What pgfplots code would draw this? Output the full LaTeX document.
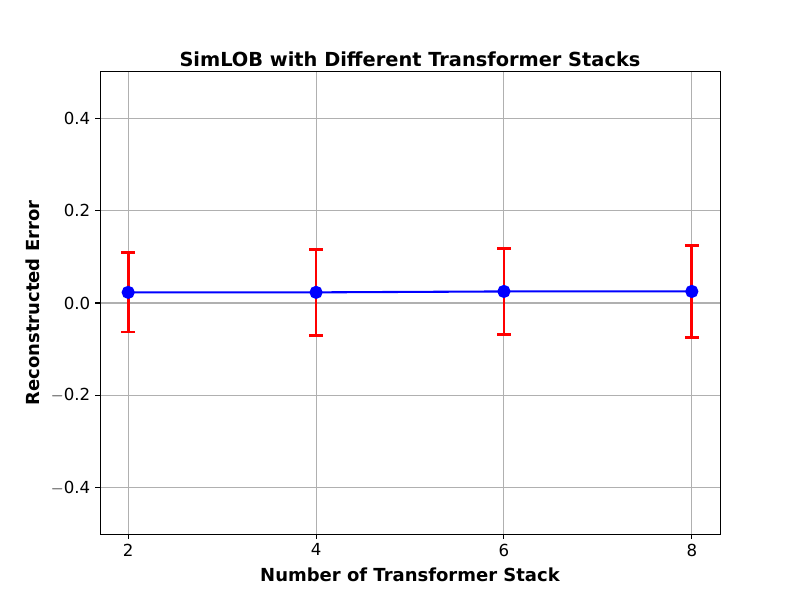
\documentclass[border=0pt]{standalone}
\usepackage{fontspec}
\setmainfont{DejaVu Sans}
\usepackage{pgfplots}
\pgfplotsset{compat=1.18}
\begin{document}
\begin{tikzpicture}
\useasboundingbox (0pt,0pt) rectangle (578.16pt,433.62pt);
\begin{axis}[
  at={(72.27pt,47.70pt)}, anchor=south west,
  scale only axis, width=448.07pt, height=333.89pt,
  xmin=1.7, xmax=8.3, ymin=-0.5, ymax=0.5,
  xtick={2,4,6,8},
  ytick={-0.4,-0.2,0,0.2,0.4},
  yticklabels={$-$0.4,$-$0.2,0.0,0.2,0.4},
  /pgf/number format/assume math mode=true,
  /pgf/number format/fixed, /pgf/number format/precision=1,
  tick label style={font=\fontsize{12}{14}\selectfont},
  tick align=outside, major tick length=3.5pt,
  tick style={black, line width=0.8pt},
  xtick pos=bottom, ytick pos=left,
  axis line style={black, line width=0.7pt},
  grid=major, grid style={color=black!31, line width=0.8pt},
  title={\bfseries SimLOB with Different Transformer Stacks},
  title style={font=\fontsize{14}{16}\selectfont, yshift=-5.5pt},
  xlabel={\bfseries Number of Transformer Stack},
  ylabel={\bfseries Reconstructed Error},
  label style={font=\fontsize{13}{15}\selectfont},
  xlabel style={yshift=-1.6pt},
  ylabel style={yshift=0.9pt},
]
\addplot[blue, line width=1.5pt, mark=*, mark size=4pt, mark options={fill=blue, draw=blue},
  error bars/.cd, y dir=both, y explicit,
  error bar style={red, line width=2pt},
  error mark options={rotate=90, red, mark size=5pt, line width=2pt}]
  coordinates {
  (2,0.023) +- (0,0.086)
  (4,0.023) +- (0,0.093)
  (6,0.025) +- (0,0.093)
  (8,0.025) +- (0,0.100)
};
\end{axis}
\end{tikzpicture}
\end{document}
